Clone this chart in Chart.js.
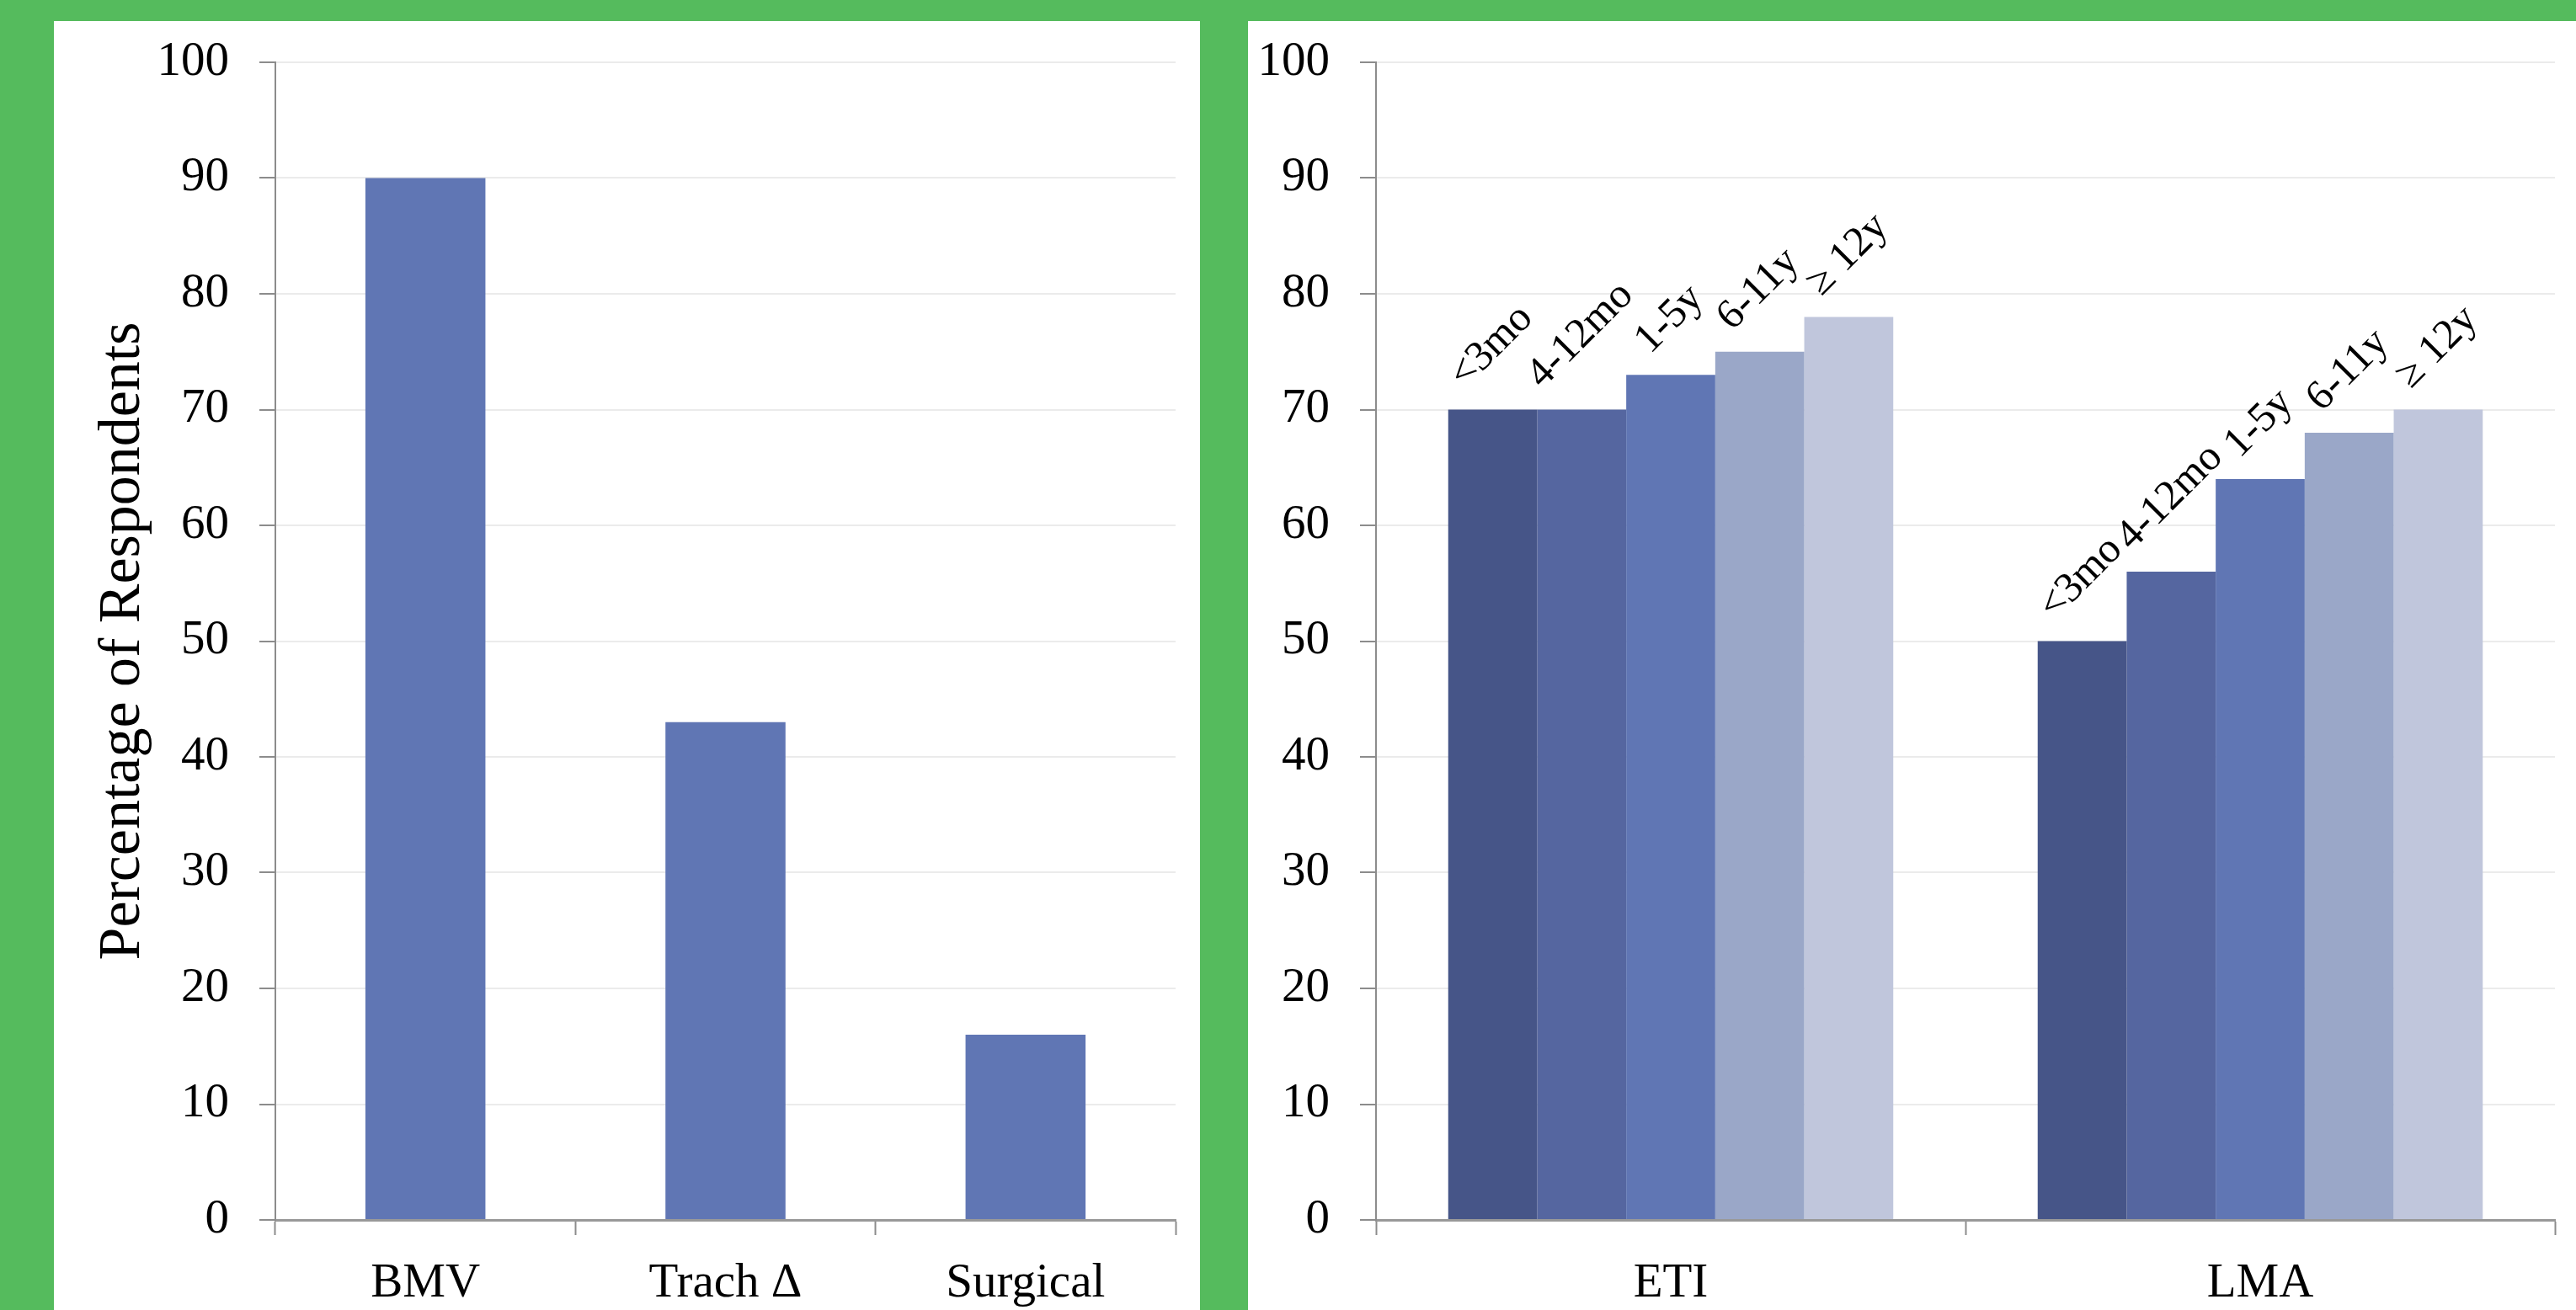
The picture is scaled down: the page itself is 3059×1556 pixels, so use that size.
<!DOCTYPE html>
<html>
<head>
<meta charset="utf-8">
<script src="https://cdn.jsdelivr.net/npm/chart.js@4.4.1/dist/chart.umd.min.js"></script>
<style>
  html, body { margin: 0; padding: 0; }
  body { width: 3059px; height: 1556px; background: #55bb5d; position: relative; overflow: hidden; }
  .panel { position: absolute; background: #fff; top: 25px; height: 1531px; }
  #left { left: 64px; width: 1361px; }
  #right { left: 1482px; width: 1577px; }
</style>
</head>
<body>
<div class="panel" id="left"><canvas id="chartLeft"></canvas></div>
<div class="panel" id="right"><canvas id="chartRight"></canvas></div>
<script>
// left panel: rescue methods
const rescueMethods = ['BMV', 'Trach \u0394', 'Surgical'];
const rescueValues = [90, 43, 16];

// right panel: devices by age group
const devices = ['ETI', 'LMA'];
const ageGroups = ['<3mo', '4-12mo', '1-5y', '6-11y', '\u2265 12y'];
const etiValues = [70, 70, 73, 75, 78];
const lmaValues = [50, 56, 64, 68, 70];
const ageColors = ['#465588', '#5566a0', '#6076b4', '#9aa7c8', '#c0c6dc'];

const yMax = 100;
const yStep = 10;
const yTitle = 'Percentage of Respondents';

Chart.defaults.font.family = '"Liberation Serif", "Times New Roman", serif';
Chart.defaults.color = '#000';

const tickGray = '#8c8c8c';

function makeScales(yWidth, showTitle) {
  return {
    x: {
      grid: { drawOnChartArea: false, offset: true, tickLength: 18, tickColor: tickGray, tickWidth: 2 },
      border: { color: '#999', width: 3 },
      ticks: { font: { size: 57 }, padding: 24 },
      afterFit: s => { s.height = 107; s.paddingLeft = 0; s.paddingRight = 0; }
    },
    y: {
      min: 0,
      max: yMax,
      ticks: { stepSize: yStep, font: { size: 57 }, padding: 36 },
      grid: { color: '#ebebeb', lineWidth: 2, tickColor: tickGray, tickWidth: 2, tickLength: 19 },
      border: { color: tickGray, width: 2 },
      title: { display: showTitle, text: yTitle, font: { size: 70 }, padding: { top: 41, bottom: 0 } },
      afterFit: s => { s.width = yWidth; s.paddingTop = 0; s.paddingBottom = 0; }
    }
  };
}

// rotated age labels sitting above each bar
const barLabels = {
  id: 'barLabels',
  afterDatasetsDraw(chart) {
    const ctx = chart.ctx;
    ctx.save();
    ctx.font = '50px "Liberation Serif", serif';
    ctx.fillStyle = '#000';
    ctx.textBaseline = 'alphabetic';
    ctx.textAlign = 'left';
    chart.data.datasets.forEach((ds, i) => {
      chart.getDatasetMeta(i).data.forEach(bar => {
        const w = ctx.measureText(ds.label).width;
        ctx.save();
        ctx.translate(bar.x - w * Math.SQRT1_2 / 2 + 8, bar.y - 24);
        ctx.rotate(-Math.PI / 4);
        ctx.fillText(ds.label, 0, 0);
        ctx.restore();
      });
    });
    ctx.restore();
  }
};

new Chart(document.getElementById('chartLeft'), {
  type: 'bar',
  data: {
    labels: rescueMethods,
    datasets: [{
      label: 'Rescue',
      data: rescueValues,
      backgroundColor: '#6076b4',
      categoryPercentage: 0.8,
      barPercentage: 0.5
    }]
  },
  options: {
    responsive: true,
    maintainAspectRatio: false,
    animation: false,
    layout: { padding: { top: 49, right: 29, left: 0, bottom: 0 } },
    plugins: { legend: { display: false }, tooltip: { enabled: false } },
    scales: makeScales(263, true)
  }
});

const deviceData = [etiValues, lmaValues];

new Chart(document.getElementById('chartRight'), {
  type: 'bar',
  data: {
    labels: devices,
    datasets: ageGroups.map((g, i) => ({
      label: g,
      data: deviceData.map(d => d[i]),
      backgroundColor: ageColors[i],
      categoryPercentage: 0.755,
      barPercentage: 1
    }))
  },
  options: {
    responsive: true,
    maintainAspectRatio: false,
    animation: false,
    layout: { padding: { top: 49, right: 25, left: 0, bottom: 0 } },
    plugins: { legend: { display: false }, tooltip: { enabled: false } },
    scales: makeScales(152, false)
  },
  plugins: [barLabels]
});
</script>
</body>
</html>
